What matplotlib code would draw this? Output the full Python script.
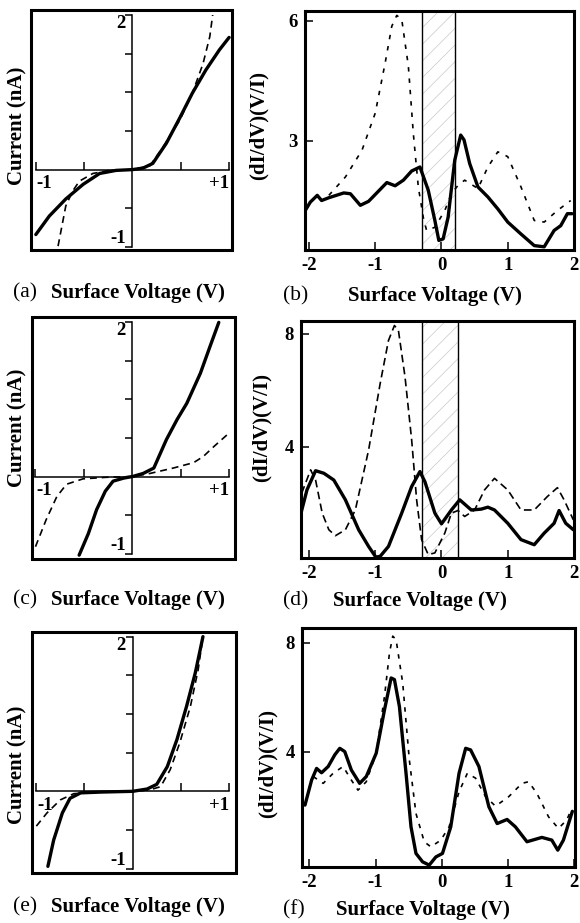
import matplotlib
matplotlib.use("Agg")
import matplotlib.pyplot as plt
from matplotlib.patches import Rectangle

plt.rcParams['font.family'] = ['Liberation Serif', 'DejaVu Serif']
plt.rcParams['font.weight'] = 'bold'
plt.rcParams['axes.unicode_minus'] = False
plt.rcParams['hatch.linewidth'] = 0.5
plt.rcParams['lines.scale_dashes'] = False

# ---------------- data: I-V curves (left column) ----------------
iv_xticks = [-1, -0.5, 0.5, 1]
iv_yticks = [-1, -0.5, 0.5, 1, 1.5, 2]

a_solid_v = [-1.0, -0.86, -0.69, -0.51, -0.34, -0.17, 0.0, 0.11, 0.21, 0.35, 0.49, 0.62, 0.76, 0.9, 1.0]
a_solid_i = [-0.84, -0.6, -0.38, -0.19, -0.05, -0.01, 0.0, 0.02, 0.08, 0.34, 0.67, 0.99, 1.29, 1.55, 1.71]
a_dash_v = [-0.77, -0.69, -0.62, -0.55, -0.41, -0.24, 0.0, 0.18, 0.31, 0.49, 0.62, 0.73, 0.8, 0.83]
a_dash_i = [-0.99, -0.47, -0.28, -0.15, -0.05, -0.01, 0.0, 0.05, 0.28, 0.64, 0.99, 1.37, 1.72, 2.0]

c_solid_v = [-0.55, -0.455, -0.37, -0.28, -0.2, -0.09, 0.0, 0.11, 0.22, 0.35, 0.46, 0.56, 0.7, 0.8, 0.89]
c_solid_i = [-1.02, -0.74, -0.43, -0.19, -0.06, -0.02, 0.0, 0.04, 0.11, 0.48, 0.74, 0.95, 1.34, 1.69, 2.0]
c_dash_v = [-1.0, -0.89, -0.78, -0.68, -0.51, -0.27, 0.0, 0.18, 0.42, 0.63, 0.73, 0.84, 1.01]
c_dash_i = [-0.91, -0.56, -0.26, -0.1, -0.03, -0.01, 0.0, 0.04, 0.11, 0.18, 0.26, 0.39, 0.58]

e_solid_v = [-0.88, -0.82, -0.73, -0.65, -0.54, -0.34, 0.0, 0.15, 0.25, 0.36, 0.46, 0.56, 0.65, 0.73]
e_solid_i = [-0.97, -0.63, -0.28, -0.09, -0.02, -0.01, 0.0, 0.03, 0.09, 0.32, 0.67, 1.1, 1.53, 2.0]
e_dash_v = [-1.0, -0.89, -0.75, -0.61, -0.34, 0.0, 0.18, 0.29, 0.39, 0.49, 0.6, 0.68, 0.73]
e_dash_i = [-0.45, -0.28, -0.11, -0.03, -0.01, 0.0, 0.02, 0.06, 0.28, 0.63, 1.1, 1.57, 2.0]

# ---------------- data: normalized conductance (right column) ----------------
didv_xticks = [-2, -1, 0, 1, 2]
didv_xticklabels = ['-2', '-1', '0', '1', '2']

b_yticks = [3, 6]
b_gap = [-0.30, 0.21]
b_solid_v = [-2.06, -1.98, -1.875, -1.81, -1.7, -1.475, -1.375, -1.225, -1.1, -0.825, -0.7, -0.575, -0.45,
             -0.325, -0.2, -0.1, -0.04, 0.025, 0.1, 0.2, 0.29, 0.34, 0.425, 0.55, 0.7, 0.85, 1.0, 1.2, 1.4,
             1.55, 1.7, 1.8, 1.9, 1.97]
b_solid_g = [1.24, 1.46, 1.63, 1.5, 1.57, 1.69, 1.67, 1.38, 1.48, 1.95, 1.87, 2.01, 2.24,
             2.34, 1.76, 1.0, 0.5, 0.54, 1.08, 2.51, 3.14, 3.02, 2.43, 1.84, 1.59, 1.29, 0.96, 0.66, 0.37,
             0.34, 0.75, 0.87, 1.17, 1.17]
b_dash_v = [-1.7, -1.45, -1.2, -1.0, -0.85, -0.75, -0.675, -0.6, -0.5, -0.425, -0.35, -0.275, -0.225, -0.1,
            0.05, 0.15, 0.25, 0.35, 0.55, 0.7, 0.85, 1.0, 1.2, 1.4, 1.55, 1.75, 1.95]
b_dash_g = [1.63, 2.09, 2.76, 3.69, 4.95, 5.87, 6.14, 6.04, 4.87, 3.18, 1.84, 1.08, 0.75, 0.83,
            1.25, 1.67, 1.88, 2.01, 1.8, 2.34, 2.72, 2.6, 1.84, 1.0, 0.96, 1.25, 1.5]

d_yticks = [4, 8]
d_gap = [-0.29, 0.25]
d_solid_v = [-2.12, -2.03, -1.9, -1.775, -1.625, -1.45, -1.25, -1.1, -0.99, -0.925, -0.8, -0.6, -0.45,
             -0.325, -0.25, -0.1, 0.0, 0.15, 0.275, 0.45, 0.6, 0.7, 0.8, 1.0, 1.2, 1.4, 1.55, 1.7,
             1.775, 1.875, 1.99]
d_solid_g = [1.65, 2.47, 3.15, 3.06, 2.82, 2.12, 1.06, 0.47, 0.09, 0.12, 0.47, 1.65, 2.59,
             3.12, 2.76, 1.65, 1.27, 1.76, 2.12, 1.76, 1.79, 1.86, 1.76, 1.29, 0.71, 0.53, 0.94, 1.29,
             1.74, 1.29, 1.06]
d_dash_v = [-2.11, -1.975, -1.9, -1.8, -1.7, -1.6, -1.45, -1.3, -1.1, -0.925, -0.8, -0.71, -0.65, -0.55,
            -0.45, -0.375, -0.3, -0.2, -0.1, 0.05, 0.15, 0.25, 0.35, 0.5, 0.65, 0.8, 1.0, 1.2, 1.4,
            1.6, 1.75, 1.85, 1.99]
d_dash_g = [2.35, 3.18, 2.82, 1.65, 1.06, 0.85, 1.06, 1.76, 3.88, 6.24, 7.76, 8.29, 8.12, 6.47,
            4.24, 2.12, 0.71, 0.18, 0.24, 0.94, 1.65, 1.74, 1.53, 1.76, 2.47, 2.88, 2.47, 1.76, 1.76,
            2.24, 2.55, 2.12, 1.41]

f_yticks = [4, 8]
f_solid_v = [-2.065, -1.965, -1.89, -1.815, -1.715, -1.615, -1.54, -1.465, -1.365, -1.24, -1.14, -0.99,
             -0.865, -0.765, -0.715, -0.64, -0.54, -0.465, -0.39, -0.29, -0.19, -0.09, 0.01, 0.135,
             0.26, 0.36, 0.435, 0.56, 0.71, 0.835, 0.985, 1.11, 1.285, 1.51, 1.66, 1.75, 1.835, 1.97]
f_solid_g = [2.03, 2.95, 3.38, 3.22, 3.45, 3.88, 4.12, 4.0, 3.32, 2.83, 3.08, 3.94,
             5.54, 6.71, 6.65, 5.66, 3.2, 1.23, 0.25, -0.06, -0.18, 0.12, 0.25, 1.23,
             3.2, 4.12, 4.06, 3.45, 1.97, 1.35, 1.5, 1.23, 0.68, 0.84, 0.74, 0.37, 0.74, 1.8]
f_dash_v = [-1.94, -1.79, -1.64, -1.49, -1.365, -1.265, -1.14, -0.99, -0.865, -0.79, -0.74, -0.69, -0.59,
            -0.49, -0.39, -0.265, -0.165, -0.015, 0.11, 0.26, 0.385, 0.51, 0.66, 0.81, 1.01, 1.21,
            1.31, 1.435, 1.61, 1.76, 1.885, 1.96]
f_dash_g = [3.08, 2.83, 3.2, 3.45, 2.95, 2.58, 2.89, 3.94, 6.03, 7.63, 8.25, 8.12, 6.52,
            3.69, 1.72, 0.68, 0.49, 0.74, 1.23, 2.52, 3.2, 3.02, 2.34, 1.99, 2.34, 2.83,
            2.89, 2.46, 1.6, 1.17, 1.48, 1.9]

W, H = 580, 923
fig = plt.figure(figsize=(W / 100, H / 100), dpi=100)


def px_axes(x0, y0, x1, y1):
    return fig.add_axes([x0 / W, 1 - y1 / H, (x1 - x0) / W, (y1 - y0) / H])


TICK_FS = 13.5
LAB_FS = 15


def iv_panel(ax, xlim, ylim, sv, si, dv, di, dash):
    ax.set_xlim(xlim)
    ax.set_ylim(ylim)
    ax.plot(sv, si, color='black', lw=2.4, solid_joinstyle='round', solid_capstyle='round')
    ax.plot(dv, di, color='black', lw=1.2, dashes=dash)
    for s in ['top', 'right']:
        ax.spines[s].set_visible(False)
    ax.spines['left'].set_position(('data', 0))
    ax.spines['bottom'].set_position(('data', 0))
    ax.spines['left'].set_bounds(iv_yticks[0], iv_yticks[-1])
    ax.spines['bottom'].set_bounds(iv_xticks[0], iv_xticks[-1])
    ax.spines['left'].set_linewidth(1.1)
    ax.spines['bottom'].set_linewidth(1.1)
    ax.set_xticks(iv_xticks)
    ax.set_yticks(iv_yticks)
    ax.tick_params(axis='x', direction='in', length=6, width=1.1, labelbottom=False)
    ax.tick_params(axis='y', direction='out', length=5, width=1.1, labelleft=False)
    ax.add_patch(Rectangle((0, 0), 1, 1, transform=ax.transAxes, fill=False,
                           lw=2.2, edgecolor='black', clip_on=False, zorder=5))
    ax.text(-0.07, iv_yticks[-1], '2', ha='right', va='top', fontsize=TICK_FS)
    ax.text(-0.07, iv_yticks[0], '-1', ha='right', va='bottom', fontsize=TICK_FS)
    ax.text(iv_xticks[0] + 0.01, -0.07, '-1', ha='left', va='top', fontsize=TICK_FS)
    ax.text(iv_xticks[-1], -0.07, '+1', ha='right', va='top', fontsize=TICK_FS)


def didv_panel(ax, xlim, ylim, yticks, sv, sg, dv, dg, dash, gap=None):
    ax.set_xlim(xlim)
    ax.set_ylim(ylim)
    if gap is not None:
        ax.axvspan(gap[0], gap[1], facecolor='white', edgecolor='#c8c8c8', hatch='//', lw=0, zorder=1)
        ax.axvline(gap[0], color='black', lw=1.0, zorder=2)
        ax.axvline(gap[1], color='black', lw=1.0, zorder=2)
    ax.plot(sv, sg, color='black', lw=2.4, solid_joinstyle='round', solid_capstyle='round', zorder=3)
    ax.plot(dv, dg, color='black', lw=1.2, dashes=dash, zorder=3)
    for s in ax.spines.values():
        s.set_linewidth(2.2)
    ax.set_xticks(didv_xticks)
    ax.set_xticklabels(didv_xticklabels)
    ax.set_yticks(yticks)
    ax.set_yticklabels([str(t) for t in yticks])
    ax.tick_params(direction='in', length=6, width=1.1, labelsize=TICK_FS, pad=5)


axa = px_axes(31, 10, 232, 250)
iv_panel(axa, (-1.05, 1.03), (-1.04, 2.065), a_solid_v, a_solid_i, a_dash_v, a_dash_i, (5, 3.5))
axc = px_axes(32, 317, 235, 559)
iv_panel(axc, (-1.036, 1.057), (-1.07, 2.07), c_solid_v, c_solid_i, c_dash_v, c_dash_i, (5, 3.5))
axe = px_axes(32, 632, 236, 873)
iv_panel(axe, (-1.045, 1.073), (-1.056, 2.06), e_solid_v, e_solid_i, e_dash_v, e_dash_i, (5, 3.5))

axb = px_axes(305, 11, 574, 250)
didv_panel(axb, (-2.06, 2.0), (0.26, 6.25), b_yticks, b_solid_v, b_solid_g, b_dash_v, b_dash_g, (3.2, 5), b_gap)
axd = px_axes(301, 321, 574, 558)
didv_panel(axd, (-2.12, 2.0), (0.06, 8.45), d_yticks, d_solid_v, d_solid_g, d_dash_v, d_dash_g, (5.5, 3.2), d_gap)
axf = px_axes(302, 628, 575, 867)
didv_panel(axf, (-2.11, 2.01), (-0.25, 8.55), f_yticks, f_solid_v, f_solid_g, f_dash_v, f_dash_g, (3.2, 4.5))


def ftext(x, y, s, **kw):
    fig.text(x / W, 1 - y / H, s, **kw)


# panel captions
for letter, y in [('(a)', 293), ('(c)', 600), ('(e)', 907)]:
    ftext(13, y, letter, ha='left', va='center', fontsize=15.5, fontweight='normal')
    ftext(138, y, 'Surface Voltage (V)', ha='center', va='center', fontsize=LAB_FS)
for letter, y, cx in [('(b)', 296, 435), ('(d)', 601, 420), ('(f)', 910, 423)]:
    ftext(283, y, letter, ha='left', va='center', fontsize=15.5, fontweight='normal')
    ftext(cx, y, 'Surface Voltage (V)', ha='center', va='center', fontsize=LAB_FS)

# y-axis labels
for y in [126, 428, 765]:
    ftext(17, y, 'Current (nA)', ha='center', va='center', rotation=90, fontsize=LAB_FS)
for x, y in [(259, 126), (262, 428), (268, 764)]:
    ftext(x, y, '(dI/dV)(V/I)', ha='center', va='center', rotation=90, fontsize=LAB_FS)

fig.savefig('out.png', dpi=100)
